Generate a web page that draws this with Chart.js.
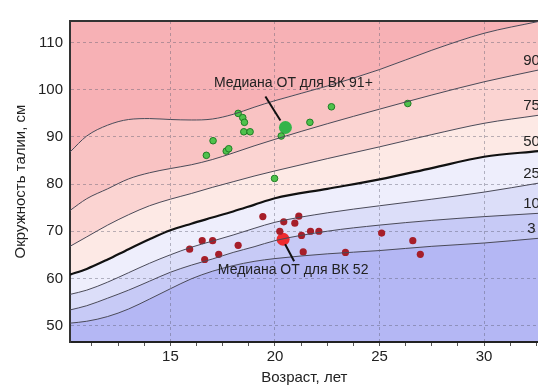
<!DOCTYPE html>
<html>
<head>
<meta charset="utf-8">
<script src="https://cdn.jsdelivr.net/npm/chart.js@4"></script>
<style>
  html, body { margin: 0; padding: 0; background: #fff; overflow: hidden; width: 538px; height: 392px; }
</style>
</head>
<body>
<canvas id="waist" width="545" height="392"></canvas>
<script>
// Percentile curves of waist circumference by age (cm)
const ages = [10.2, 11, 12, 13, 14, 15, 16, 17, 18, 19, 20, 22.5, 25, 27.5, 30, 32.6];
const p97 = [86.8, 90.2, 92.5, 93.7, 93.9, 93.7, 93.6, 93.8, 94.8, 96.3, 97.7, 100.8, 104.3, 108.4, 112.0, 114.5];
const p90 = [74.4, 76.9, 79.0, 81.1, 82.4, 83.3, 84.1, 85.2, 86.6, 88.1, 89.5, 92.8, 95.9, 98.9, 101.7, 104.2];
const p75 = [66.8, 68.8, 71.3, 73.5, 75.4, 76.8, 78.0, 79.3, 80.5, 81.7, 82.8, 85.4, 87.9, 90.5, 92.9, 94.6];
const p50 = [60.8, 62.0, 64.0, 66.2, 68.3, 70.2, 71.6, 72.9, 74.2, 75.6, 77.0, 79.0, 81.0, 83.4, 85.8, 87.0];
const p25 = [56.6, 57.5, 59.2, 61.2, 63.2, 65.0, 66.6, 67.9, 69.2, 70.6, 71.9, 73.9, 75.4, 76.8, 78.3, 80.2];
const p10 = [53.3, 54.2, 55.8, 57.5, 59.4, 61.3, 62.8, 64.1, 65.5, 66.7, 68.0, 70.0, 71.3, 72.3, 73.1, 73.8];
const p3  = [50.5, 50.9, 51.9, 53.5, 55.6, 57.8, 59.9, 61.5, 62.7, 63.6, 64.2, 65.2, 65.9, 66.8, 67.5, 68.5];

// Individual measurements, group "ВК 91+"
const ages91 = [18.24, 18.46, 18.54, 18.51, 18.81, 17.04, 16.72, 17.67, 17.79, 20.30, 21.67, 22.70, 26.35, 19.98];
const waist91 = [95.0, 94.1, 93.1, 91.1, 91.1, 89.2, 86.1, 87.0, 87.5, 90.2, 93.1, 96.4, 97.1, 81.2];
const median91 = [20.5, 92.0];

// Individual measurements, group "ВК 52"
const ages52 = [15.92, 16.52, 17.02, 16.64, 17.31, 18.24, 19.42, 20.42, 20.95, 21.14, 20.23, 21.27, 21.70, 22.10, 21.35, 23.37, 25.10, 26.59, 26.95];
const waist52 = [66.2, 68.0, 68.0, 64.0, 65.1, 67.0, 73.1, 72.0, 71.7, 73.2, 70.0, 69.1, 70.0, 70.0, 65.6, 65.5, 69.6, 68.0, 65.1];
const median52 = [20.39, 68.3];

const yTicks = [50, 60, 70, 80, 90, 100, 110];
const xTicks = [11.25, 12.5, 13.75, 15, 16.25, 17.5, 18.75, 20, 21.25, 22.5, 23.75, 25, 26.25, 27.5, 28.75, 30, 31.25, 32.5];

const FONT = "'Liberation Sans', Arial, sans-serif";
const GRID = 'rgba(90,90,110,0.42)';

function pts(xs, ys) {
    return xs.map((x, i) => ({ x: x, y: ys[i] }));
}

// each curve paints the band below it; lower curves are painted later and cover the rest
function curve(values, fill, color, label) {
    return {
        label: label,
        data: pts(ages, values),
        showLine: true,
        fill: fill,
        backgroundColor: color,
        borderColor: label === '50' ? '#111' : '#4a4a58',
        borderWidth: label === '50' ? 2.2 : 1,
        pointRadius: 0,
        cubicInterpolationMode: 'monotone'
    };
}

// fills are drawn before the grid, so the curves need their control points first
const prepCurves = {
    id: 'prepCurves',
    afterDatasetsUpdate(chart) {
        chart.getSortedVisibleDatasetMetas().forEach(m => {
            if (m.dataset) m.dataset.updateControlPoints(chart.chartArea, 'x');
        });
    }
};

// labels of the percentile curves at the right edge
const curveLabels = {
    id: 'curveLabels',
    afterDatasetsDraw(chart) {
        const ctx = chart.ctx;
        const y = chart.scales.y;
        ctx.save();
        ctx.font = '15px ' + FONT;
        ctx.fillStyle = '#222';
        ctx.textAlign = 'center';
        ctx.textBaseline = 'middle';
        chart.data.datasets.forEach(ds => {
            if (!ds.label || ds.label === '97') return;
            const last = ds.data[ds.data.length - 1].y;
            ctx.fillText(ds.label, chart.chartArea.right - 7, y.getPixelForValue(last) - 9);
        });
        ctx.restore();
    }
};

// callouts for the two medians
const callouts = {
    id: 'callouts',
    afterDatasetsDraw(chart) {
        const ctx = chart.ctx;
        const sx = chart.scales.x, sy = chart.scales.y;
        const items = [
            { p: median91, text: 'Медиана ОТ для ВК 91+', dx: 8, dy: -44, l: [-5, -7, -20, -31] },
            { p: median52, text: 'Медиана ОТ для ВК 52', dx: 10, dy: 31, l: [2, 5, 11, 22] }
        ];
        ctx.save();
        ctx.font = '14px ' + FONT;
        ctx.fillStyle = '#222';
        ctx.strokeStyle = '#111';
        ctx.lineWidth = 2;
        ctx.textAlign = 'center';
        ctx.textBaseline = 'middle';
        items.forEach(it => {
            const px = sx.getPixelForValue(it.p[0]);
            const py = sy.getPixelForValue(it.p[1]);
            ctx.beginPath();
            ctx.moveTo(px + it.l[0], py + it.l[1]);
            ctx.lineTo(px + it.l[2], py + it.l[3]);
            ctx.stroke();
            ctx.fillText(it.text, px + it.dx, py + it.dy);
        });
        ctx.restore();
    }
};

function noSidePad(s, h) {
    s.height = h;
    s.paddingLeft = 0;
    s.paddingRight = 0;
}

new Chart(document.getElementById('waist'), {
    type: 'scatter',
    data: {
        datasets: [
            curve(p3, 'start', '#b4b7f4', '3'),
            curve(p10, 'start', '#c7caf6', '10'),
            curve(p25, 'start', '#dcdef9', '25'),
            curve(p50, 'start', '#eeeefc', '50'),
            curve(p75, 'start', '#fde9e5', '75'),
            curve(p90, 'start', '#fbd4d2', '90'),
            curve(p97, 'start', '#f9c3c3', '97'),
            Object.assign(curve(p97, 'end', '#f7b1b5', null), { borderWidth: 0 }),
            {
                data: pts(ages91, waist91),
                backgroundColor: '#4fc24c',
                borderColor: '#1f7d25',
                borderWidth: 1,
                pointRadius: 3.3
            },
            {
                data: pts(ages52, waist52),
                backgroundColor: '#a61e29',
                borderColor: '#a61e29',
                borderWidth: 0,
                pointRadius: 3.6
            },
            {
                data: [{ x: median91[0], y: median91[1] }],
                backgroundColor: '#34b44a',
                borderWidth: 0,
                pointRadius: 6.5
            },
            {
                data: [{ x: median52[0], y: median52[1] }],
                backgroundColor: '#ee2b2f',
                borderWidth: 0,
                pointRadius: 6.5
            }
        ]
    },
    options: {
        responsive: false,
        animation: false,
        layout: { padding: 0 },
        scales: {
            x: {
                type: 'linear',
                min: 10.2,
                max: 32.6,
                afterFit: s => noSidePad(s, 50),
                afterBuildTicks: s => { s.ticks = xTicks.map(v => ({ value: v })); },
                grid: {
                    color: c => (c.tick && c.tick.value % 5 === 0) ? GRID : 'rgba(0,0,0,0)',
                    tickColor: '#555',
                    tickLength: 4,
                    lineWidth: 1
                },
                border: { display: true, color: '#222', width: 2, dash: [3, 3] },
                ticks: {
                    autoSkip: false,
                    maxRotation: 0,
                    padding: 2,
                    color: '#222',
                    font: { size: 15, family: FONT },
                    callback: v => (v % 5 === 0 ? String(v) : '')
                },
                title: {
                    display: true,
                    text: 'Возраст, лет',
                    color: '#222',
                    font: { size: 15, family: FONT },
                    padding: { top: 0, bottom: 5 }
                }
            },
            xTop: {
                type: 'linear',
                position: 'top',
                min: 10.2,
                max: 32.6,
                afterFit: s => noSidePad(s, 21),
                ticks: { display: false },
                grid: { drawOnChartArea: false, drawTicks: false },
                border: { display: true, color: '#333', width: 2 }
            },
            y: {
                min: 46.5,
                max: 114.6,
                afterFit: s => { s.width = 70; },
                afterBuildTicks: s => { s.ticks = yTicks.map(v => ({ value: v })); },
                grid: {
                    color: GRID,
                    drawTicks: false,
                    lineWidth: 1
                },
                border: { display: true, color: '#333', width: 2, dash: [3, 3] },
                ticks: {
                    padding: 7,
                    color: '#222',
                    font: { size: 15, family: FONT }
                },
                title: {
                    display: true,
                    text: 'Окружность талии, см',
                    color: '#222',
                    font: { size: 15, family: FONT },
                    padding: { top: 12, bottom: 0 }
                }
            }
        },
        plugins: {
            legend: { display: false },
            tooltip: { enabled: false },
            filler: { drawTime: 'beforeDraw' }
        }
    },
    plugins: [prepCurves, curveLabels, callouts]
});
</script>
</body>
</html>
